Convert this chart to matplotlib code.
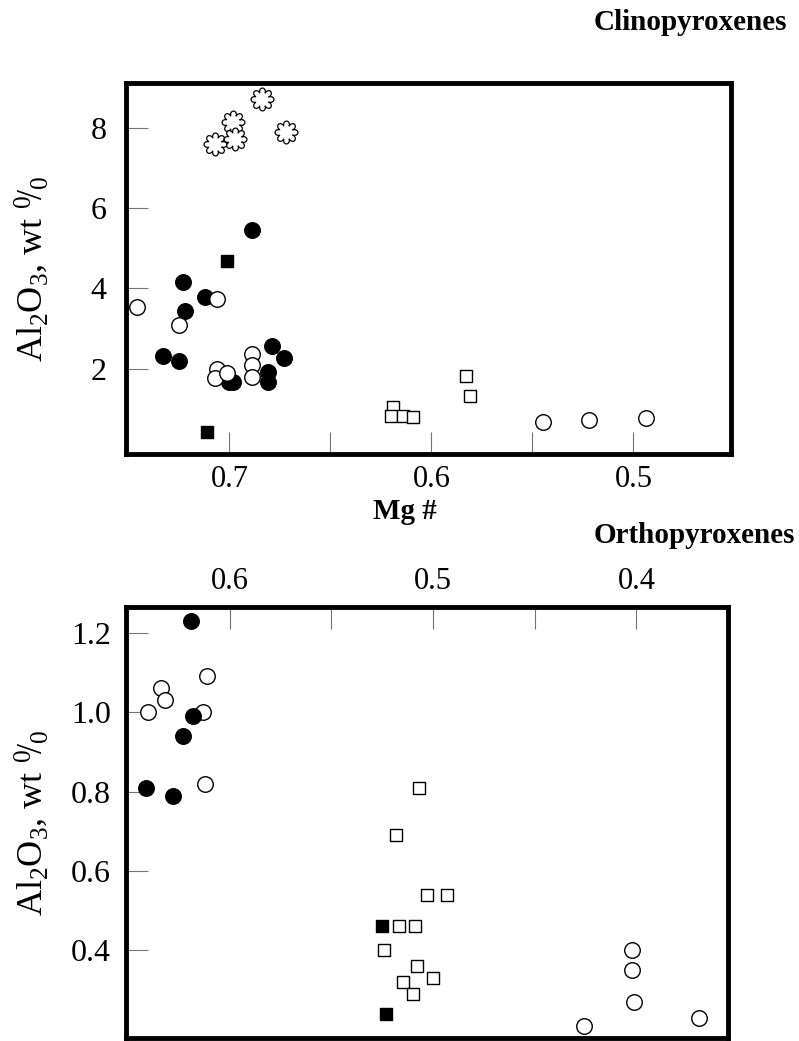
import matplotlib
matplotlib.use('Agg')
import matplotlib.pyplot as plt
import numpy as np
from matplotlib.path import Path
from matplotlib.ticker import FixedLocator, FormatStrFormatter

plt.rcParams['font.family'] = 'Liberation Serif'
plt.rcParams['mathtext.fontset'] = 'custom'
plt.rcParams['mathtext.rm'] = 'Liberation Serif'
plt.rcParams['mathtext.it'] = 'Liberation Serif:italic'
plt.rcParams['mathtext.bf'] = 'Liberation Serif:bold'

# Clinopyroxenes (Mg #, Al2O3 wt %)
cpx_star_mg = [0.684, 0.698, 0.707, 0.697, 0.672]
cpx_star_al = [8.71, 8.14, 7.59, 7.72, 7.89]
cpx_fcirc_mg = [0.689, 0.723, 0.712, 0.722, 0.733, 0.725, 0.700, 0.698, 0.679, 0.673, 0.681, 0.681]
cpx_fcirc_al = [5.45, 4.17, 3.78, 3.44, 2.32, 2.20, 1.66, 1.66, 2.57, 2.27, 1.91, 1.66]
cpx_ocirc_mg = [0.746, 0.706, 0.725, 0.706, 0.707, 0.701, 0.689, 0.689, 0.689, 0.545, 0.522, 0.494]
cpx_ocirc_al = [3.53, 3.74, 3.08, 2.00, 1.77, 1.90, 2.37, 2.09, 1.80, 0.68, 0.72, 0.78]
cpx_fsq_mg = [0.701, 0.711]
cpx_fsq_al = [4.69, 0.42]
cpx_osq_mg = [0.583, 0.581, 0.619, 0.620, 0.614, 0.609]
cpx_osq_al = [1.83, 1.33, 1.04, 0.83, 0.82, 0.79]

# Orthopyroxenes
opx_fcirc_mg = [0.619, 0.618, 0.623, 0.641, 0.628]
opx_fcirc_al = [1.23, 0.99, 0.94, 0.81, 0.79]
opx_ocirc_mg = [0.611, 0.634, 0.632, 0.640, 0.613, 0.612, 0.402, 0.402, 0.401, 0.426, 0.369]
opx_ocirc_al = [1.09, 1.06, 1.03, 1.00, 1.00, 0.82, 0.40, 0.35, 0.27, 0.21, 0.23]
opx_osq_mg = [0.507, 0.518, 0.503, 0.493, 0.517, 0.509, 0.524, 0.508, 0.500, 0.515, 0.510]
opx_osq_al = [0.81, 0.69, 0.54, 0.54, 0.46, 0.46, 0.40, 0.36, 0.33, 0.32, 0.29]
opx_fsq_mg = [0.525, 0.523]
opx_fsq_al = [0.46, 0.24]

# flower shaped marker for the starred samples
th = np.linspace(0, 2 * np.pi, 240)
r = 0.55 + 0.45 * np.abs(np.cos(4 * th)) ** 0.5
flower = Path(np.column_stack([r * np.cos(th), r * np.sin(th)]), closed=True)

fig = plt.figure(figsize=(7.99, 10.41), dpi=100)
ax1 = fig.add_axes([0.1577, 0.5639, 0.7572, 0.3564])
ax2 = fig.add_axes([0.1577, 0.0029, 0.7534, 0.4140])

s_circ = 125
s_sq = 85
ylab = r'Al$_2$O$_3$, wt $^0\!/_0$'

ax1.scatter(cpx_star_mg, cpx_star_al, s=270, marker=flower, facecolor='white', edgecolor='black', linewidth=0.9, zorder=3)
ax1.scatter(cpx_fcirc_mg, cpx_fcirc_al, s=s_circ, marker='o', color='black', zorder=3)
ax1.scatter(cpx_ocirc_mg, cpx_ocirc_al, s=s_circ, marker='o', facecolor='white', edgecolor='black', linewidth=1.0, zorder=4)
ax1.scatter(cpx_fsq_mg, cpx_fsq_al, s=s_sq, marker='s', color='black', zorder=3)
ax1.scatter(cpx_osq_mg, cpx_osq_al, s=s_sq, marker='s', facecolor='white', edgecolor='black', linewidth=1.0, zorder=3)

ax1.set_xlim(0.7512, 0.4517)
ax1.set_ylim(-0.12, 9.11)
ax1.xaxis.set_major_locator(FixedLocator([0.7, 0.6, 0.5]))
ax1.xaxis.set_minor_locator(FixedLocator([0.65, 0.55]))
ax1.xaxis.set_major_formatter(FormatStrFormatter('%.1f'))
ax1.yaxis.set_major_locator(FixedLocator([2, 4, 6, 8]))
ax1.yaxis.set_major_formatter(FormatStrFormatter('%d'))
ax1.tick_params(axis='x', which='both', direction='in', length=16, width=0.8, color='0.45', pad=8, labelsize=22)
ax1.tick_params(axis='y', which='both', direction='in', length=16, width=0.8, color='0.45', pad=14, labelsize=23)
ax1.set_ylabel(ylab, fontsize=26)
ax1.yaxis.set_label_coords(-0.125, 0.5)

ax2.scatter(opx_ocirc_mg, opx_ocirc_al, s=s_circ, marker='o', facecolor='white', edgecolor='black', linewidth=1.0, zorder=3)
ax2.scatter(opx_fcirc_mg, opx_fcirc_al, s=s_circ, marker='o', color='black', zorder=4)
ax2.scatter(opx_osq_mg, opx_osq_al, s=s_sq, marker='s', facecolor='white', edgecolor='black', linewidth=1.0, zorder=3)
ax2.scatter(opx_fsq_mg, opx_fsq_al, s=s_sq, marker='s', color='black', zorder=3)

ax2.set_xlim(0.651, 0.355)
ax2.set_ylim(0.179, 1.265)
ax2.xaxis.tick_top()
ax2.xaxis.set_major_locator(FixedLocator([0.6, 0.5, 0.4]))
ax2.xaxis.set_minor_locator(FixedLocator([0.55, 0.45]))
ax2.xaxis.set_major_formatter(FormatStrFormatter('%.1f'))
ax2.yaxis.set_major_locator(FixedLocator([0.4, 0.6, 0.8, 1.0, 1.2]))
ax2.yaxis.set_major_formatter(FormatStrFormatter('%.1f'))
ax2.tick_params(axis='x', which='both', direction='in', length=16, width=0.8, color='0.45', pad=8, labelsize=22)
ax2.tick_params(axis='y', which='both', direction='in', length=16, width=0.8, color='0.45', pad=11, labelsize=23)
ax2.set_ylabel(ylab, fontsize=26)
ax2.yaxis.set_label_coords(-0.126, 0.5)

for ax in (ax1, ax2):
    for sp in ax.spines.values():
        sp.set_linewidth(3.5)

fig.text(0.985, 0.978, 'Clinopyroxenes', ha='right', va='center', fontsize=21, fontweight='bold')
fig.text(0.995, 0.486, 'Orthopyroxenes', ha='right', va='center', fontsize=21, fontweight='bold')
fig.text(0.507, 0.509, 'Mg #', ha='center', va='center', fontsize=21, fontweight='bold')

fig.savefig('out.png', dpi=100)
